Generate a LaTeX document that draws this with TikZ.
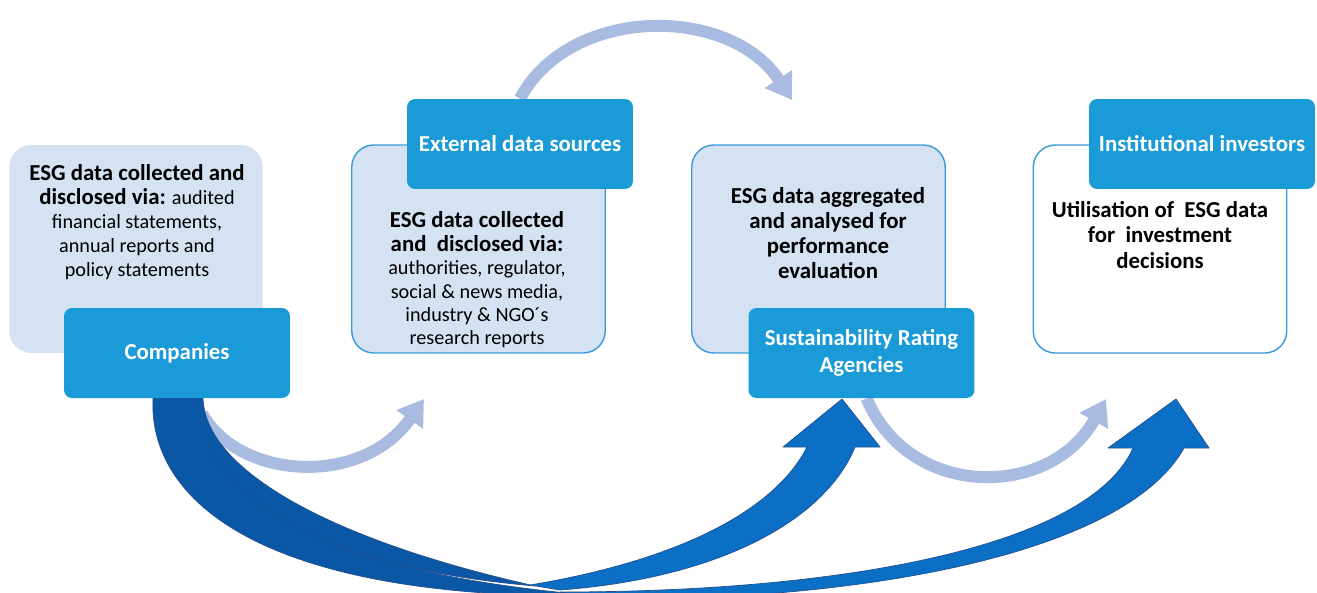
\documentclass[tikz,border=0pt]{standalone}
\usepackage{fontspec}
\setmainfont{Carlito}
\usetikzlibrary{arrows.meta,backgrounds}
\definecolor{header}{HTML}{1A9AD6}
\definecolor{panel}{HTML}{D5E2F2}
\definecolor{rim}{HTML}{3A9AD9}
\definecolor{flowlight}{HTML}{A9BBE0}
\definecolor{flowmain}{HTML}{0B6FC6}
\definecolor{flowback}{HTML}{0A57A5}
\definecolor{flowedge}{HTML}{23508F}
\newcommand{\esgbold}[1]{{\fontsize{13}{14.3}\selectfont\bfseries #1}}

\begin{document}
\begin{tikzpicture}[x=0.02cm, y=-0.02cm,
  panelbox/.style={rounded corners=0.44cm,minimum width=5.07cm,minimum height=4.16cm},
  headbox/.style={fill=header,rounded corners=0.16cm,minimum width=4.52cm,minimum height=1.8cm,text=white,align=center,font=\fontsize{13}{15.2}\selectfont\bfseries},
  body/.style={align=center,inner sep=0pt,font=\fontsize{11.5}{13.6}\selectfont},
  lightflow/.style={line width=0.24cm,flowlight,-{Triangle[length=0.5cm,width=0.62cm]}},
  backflow/.style={fill=flowback,draw=flowedge,line width=0.4pt,line join=round},
  frontflow/.style={fill=flowmain,draw=flowedge,line width=0.4pt,line join=round},
]
  \useasboundingbox (0,0) rectangle (1317,592);
  \clip (0,0) rectangle (1317,592);

  % panels
  \node[panelbox,fill=panel] (collect) at (136,249) {};
  \node[panelbox,fill=panel,draw=rim,line width=0.8pt] (external) at (478.5,249) {};
  \node[panelbox,fill=panel,draw=rim,line width=0.8pt] (aggr) at (818.5,249) {};
  \node[panelbox,fill=white,draw=rim,line width=0.8pt] (usage) at (1160,249) {};

  % headers
  \node[headbox] (companies) at (177,353) {Companies};
  \node[headbox] (extsrc) at (520,144) {External data sources};
  \node[headbox] (sra) at (861.5,353) {Sustainability Rating\\Agencies};
  \node[headbox] (investors) at (1202,144) {Institutional investors};

  % panel texts
  \node[body] (collecttext) at (137,222) {\esgbold{ESG data collected and}\\\esgbold{disclosed via:} audited\\financial statements,\\annual reports and\\policy statements};
  \node[body,font=\fontsize{11.5}{13.3}\selectfont] (externaltext) at (477,280) {\esgbold{ESG data collected}\\\esgbold{and~ disclosed via:}\\authorities, regulator,\\social \& news media,\\industry \& NGO´s\\research reports};
  \node[body,font=\fontsize{13}{14.3}\selectfont\bfseries] (aggrtext) at (828,233) {ESG data aggregated\\and analysed for\\performance\\evaluation};
  \node[body,font=\fontsize{13}{14.3}\selectfont\bfseries] (usagetext) at (1160,235) {Utilisation of~ ESG data\\for~ investment\\decisions};

  % arrow ends
  \coordinate (tip1) at (792,100);
  \coordinate (tip2) at (424,399);
  \coordinate (tip3) at (1106,399);
  \coordinate (tipA) at (842,399);
  \coordinate (tipB) at (1176,399);

  \begin{scope}[on background layer]
    % thin flows
    \draw[lightflow] (extsrc.north) .. controls +(50,-94) and +(-62,-95) .. (tip1);
    \draw[lightflow] ([shift={(25,15)}]companies.south) .. controls +(35,65) and +(-63,90) .. (tip2);
    \draw[lightflow] ([xshift=0.1cm]sra.south) .. controls +(43,102) and +(-56,100) .. (tip3);

    % wide flows, back parts
    \path[backflow] (180,398) .. controls (185,490) and (300,565) .. (535,586)
      .. controls (330,540) and (205,470) .. (203,398) -- cycle;
    \path[backflow] (153,398) .. controls (148,500) and (260,600) .. (600,596)
      .. controls (300,572) and (200,490) .. (200,398) -- cycle;

    % wide flows, front parts
    \path[frontflow] (530,585) .. controls (680,560) and (775,510) .. (807,447)
      -- (783,447) -- (tipA) -- (880,447) -- (855,447)
      .. controls (825,520) and (720,578) .. (560,590) -- cycle;
    \path[frontflow] (560,592) .. controls (850,592) and (1090,545) .. (1133,448)
      -- (1108,448) -- (tipB) -- (1209,448) -- (1184,448)
      .. controls (1130,545) and (900,600) .. (600,600) -- cycle;
  \end{scope}
\end{tikzpicture}
\end{document}
